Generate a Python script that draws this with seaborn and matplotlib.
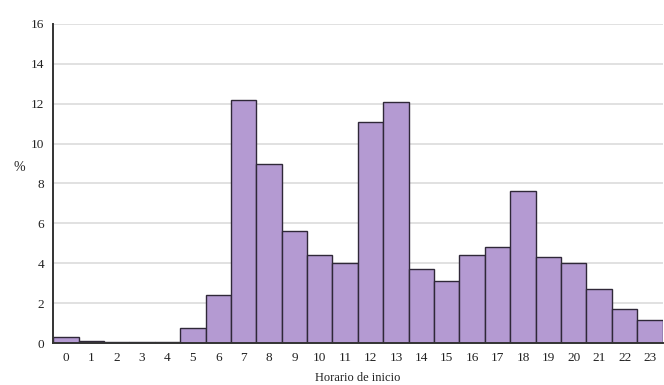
import pandas as pd
import seaborn as sns
import matplotlib.pyplot as plt

horas = [str(h) for h in range(24)]
porcentaje = [0.3, 0.1, 0.05, 0.05, 0.05, 0.75, 2.4, 12.2, 9.0, 5.6, 4.4, 4.0,
              11.1, 12.1, 3.7, 3.1, 4.4, 4.8, 7.6, 4.3, 4.0, 2.7, 1.7, 1.15]

df = pd.DataFrame({'hora': horas, 'pct': porcentaje})

sns.set_style('white')
plt.rcParams['font.family'] = ['Liberation Serif', 'DejaVu Serif']

fig = plt.figure(figsize=(6.64, 3.85), dpi=100)
ax = fig.add_axes([0.08, 0.109, 0.918, 0.829])
sns.barplot(data=df, x='hora', y='pct', color='#b49ad2', saturation=1,
            width=1, edgecolor='#2f2838', linewidth=1.0, ax=ax, zorder=2)

ax.set_ylim(0, 16)
ax.set_yticks(range(0, 17, 2))
ax.set_xlim(-0.5, 23.5)
ax.yaxis.grid(True, color='#dcdcdc', linewidth=1.2, zorder=0)
ax.set_axisbelow(True)
for s in ['top', 'right']:
    ax.spines[s].set_visible(False)
ax.spines['left'].set_color('#333333')
ax.spines['bottom'].set_color('#333333')
ax.spines['left'].set_linewidth(1.4)
ax.spines['bottom'].set_linewidth(1.4)
ax.tick_params(axis='both', labelsize=9.5, colors='#222222', length=3)
ax.set_xlabel('Horario de inicio', fontsize=9, labelpad=6, color='#222222')
ax.set_ylabel('%', fontsize=10, rotation=0, labelpad=14, color='#222222')
ax.yaxis.set_label_coords(-0.055, 0.53)

fig.savefig('out.png', dpi=100)
